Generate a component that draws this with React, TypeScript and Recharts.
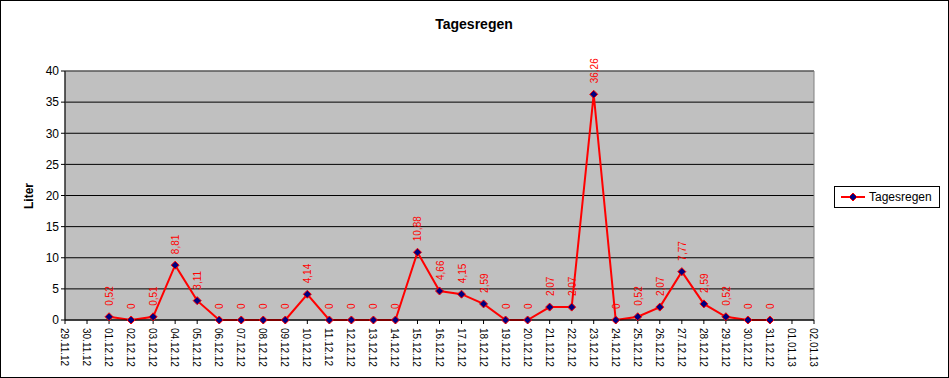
import { LineChart, Line, XAxis, YAxis, CartesianGrid, ReferenceArea, LabelList } from 'recharts';

// Tagesregen (daily rainfall in litres), Dec 2012
const dates = [
  '29.11.12', '30.11.12', '01.12.12', '02.12.12', '03.12.12', '04.12.12', '05.12.12',
  '06.12.12', '07.12.12', '08.12.12', '09.12.12', '10.12.12', '11.12.12', '12.12.12',
  '13.12.12', '14.12.12', '15.12.12', '16.12.12', '17.12.12', '18.12.12', '19.12.12',
  '20.12.12', '21.12.12', '22.12.12', '23.12.12', '24.12.12', '25.12.12', '26.12.12',
  '27.12.12', '28.12.12', '29.12.12', '30.12.12', '31.12.12', '01.01.13', '02.01.13',
];
const rain: (number | null)[] = [
  null, null, 0.52, 0, 0.51, 8.81, 3.11,
  0, 0, 0, 0, 4.14, 0, 0,
  0, 0, 10.88, 4.66, 4.15, 2.59, 0,
  0, 2.07, 2.07, 36.26, 0, 0.52, 2.07,
  7.77, 2.59, 0.52, 0, 0, null, null,
];
const yTicks = [0, 5, 10, 15, 20, 25, 30, 35, 40];

const FONT = '"Liberation Sans", Arial, sans-serif';

const data = dates.map((date, i) => ({ date, rain: rain[i] }));

function Diamond({ cx, cy, size = 4 }: { cx: number; cy: number; size?: number }) {
  return (
    <polygon
      points={`${cx},${cy - size} ${cx + size},${cy} ${cx},${cy + size} ${cx - size},${cy}`}
      fill="#000080"
      stroke="#ff0000"
      strokeWidth={1}
    />
  );
}

const XTick = (props: any) => {
  const { x, y, payload } = props;
  return (
    <text
      x={0}
      y={0}
      transform={`translate(${x - 4},${y + 2}) rotate(90)`}
      fontSize={10}
      fontFamily={FONT}
      fill="#000"
      textAnchor="start"
    >
      {payload.value}
    </text>
  );
};

const ValueLabel = (props: any) => {
  const { x, y, value } = props;
  if (value === null || value === undefined) return null;
  const txt = String(value).replace('.', ',');
  return (
    <text
      x={0}
      y={0}
      transform={`translate(${x + 4},${y - 11}) rotate(-90)`}
      fontSize={10}
      fontFamily={FONT}
      fill="#ff0000"
      textAnchor="start"
    >
      {txt}
    </text>
  );
};

export default function App() {
  return (
    <div style={{ position: 'absolute', left: 0, top: 0, width: 949, height: 378, background: '#fff' }}>
      <div
        style={{
          position: 'absolute', left: 0, top: 0, width: 949, height: 378,
          border: '1px solid #000', boxSizing: 'border-box',
        }}
      />
      <LineChart
        width={949}
        height={378}
        data={data}
        margin={{ top: 71, right: 135, left: 0, bottom: 0 }}
        style={{ position: 'absolute', left: 0, top: 0 }}
      >
        <CartesianGrid fill="#c0c0c0" stroke="#000" vertical={false} />
        <ReferenceArea
          x1={dates[0]}
          x2={dates[dates.length - 1]}
          y1={0}
          y2={40}
          fill="none"
          fillOpacity={0}
          stroke="#808080"
          strokeWidth={1}
        />
        <XAxis
          dataKey="date"
          interval={0}
          height={58}
          tick={<XTick />}
          tickSize={4}
          axisLine={{ stroke: '#000' }}
          tickLine={{ stroke: '#000' }}
        />
        <YAxis
          domain={[0, 40]}
          ticks={yTicks}
          width={65}
          tickSize={4}
          axisLine={{ stroke: '#000' }}
          tickLine={{ stroke: '#000' }}
          tick={{ fontSize: 12, fontFamily: FONT, fill: '#000' }}
        />
        <Line
          type="linear"
          dataKey="rain"
          stroke="#ff0000"
          strokeWidth={2}
          isAnimationActive={false}
          dot={(p: any) =>
            p.value === null || p.cy == null ? <g key={p.index} /> : <Diamond key={p.index} cx={p.cx} cy={p.cy} />
          }
          activeDot={false}
        >
          <LabelList dataKey="rain" content={<ValueLabel />} />
        </Line>
      </LineChart>
      <svg
        width={949}
        height={378}
        style={{ position: 'absolute', left: 0, top: 0, pointerEvents: 'none' }}
      >
        <text x={474} y={29} textAnchor="middle" fontSize={14} fontWeight="bold" fontFamily={FONT} fill="#000">
          Tagesregen
        </text>
        <text
          x={0}
          y={0}
          transform="translate(33,196) rotate(-90)"
          textAnchor="middle"
          fontSize={12}
          fontWeight="bold"
          fontFamily={FONT}
          fill="#000"
        >
          Liter
        </text>
        <rect x={834.5} y={186.5} width={105} height={21} fill="#fff" stroke="#000" />
        <line x1={841} y1={197} x2={865} y2={197} stroke="#ff0000" strokeWidth={2} />
        <polygon points="853,193 857,197 853,201 849,197" fill="#000080" stroke="#ff0000" strokeWidth={1} />
        <text x={869} y={201} fontSize={12} fontFamily={FONT} fill="#000">
          Tagesregen
        </text>
      </svg>
    </div>
  );
}
